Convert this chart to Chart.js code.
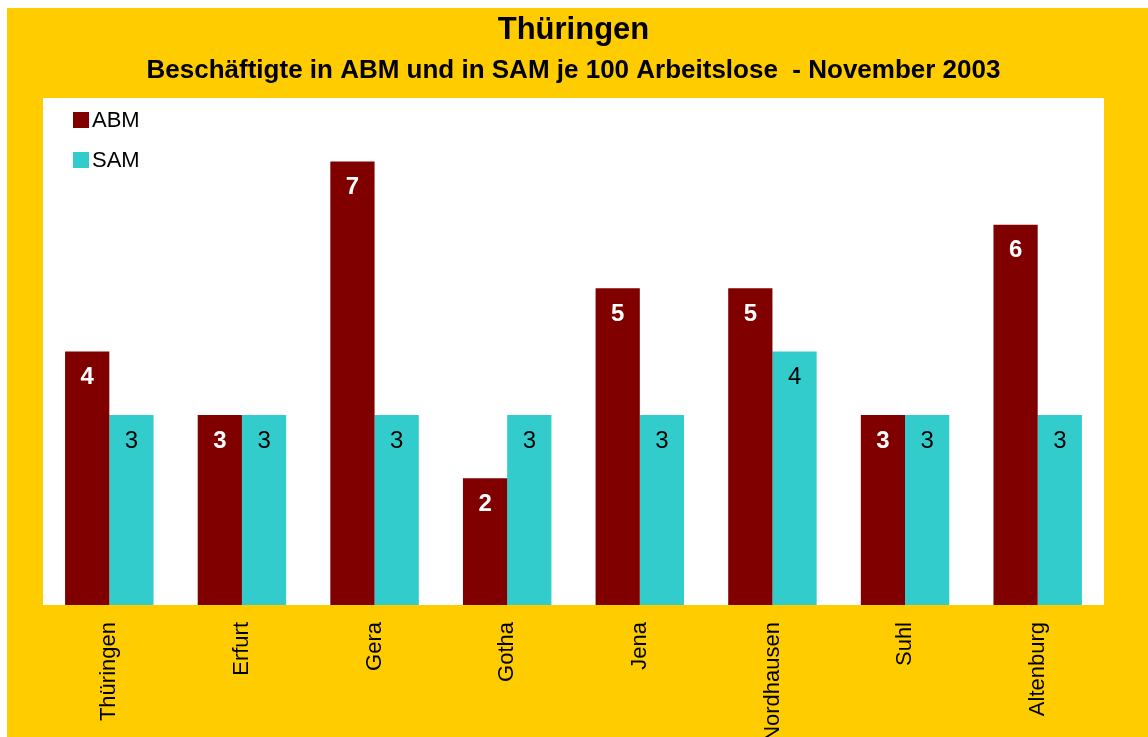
<!DOCTYPE html>
<html>
<head>
<meta charset="utf-8">
<script src="https://cdn.jsdelivr.net/npm/chart.js@4"></script>
<style>
  html, body { margin: 0; padding: 0; background: #ffffff; }
  #wrap { position: absolute; left: 7px; top: 8px; width: 1141px; height: 729px; background: #FFCC00; }
  canvas { display: block; }
</style>
</head>
<body>
<div id="wrap"><canvas id="c" width="1141" height="729"></canvas></div>
<script>
const categories = ["Thüringen", "Erfurt", "Gera", "Gotha", "Jena", "Nordhausen", "Suhl", "Altenburg"];
const abmValues = [4, 3, 7, 2, 5, 5, 3, 6];
const samValues = [3, 3, 3, 3, 3, 4, 3, 3];
const seriesNames = ["ABM", "SAM"];
const titleText = "Thüringen";
const subtitleText = "Beschäftigte in ABM und in SAM je 100 Arbeitslose  - November 2003";

const FONT = "'Liberation Sans', Arial, sans-serif";

const plotBg = {
  id: 'plotBg',
  beforeDraw(chart) {
    const { ctx, chartArea: a } = chart;
    ctx.save();
    ctx.fillStyle = '#ffffff';
    ctx.fillRect(a.left, a.top, a.right - a.left, a.bottom - a.top);
    ctx.restore();
  }
};

const valueLabels = {
  id: 'valueLabels',
  afterDatasetsDraw(chart) {
    const { ctx } = chart;
    ctx.save();
    ctx.textAlign = 'center';
    ctx.textBaseline = 'middle';
    chart.data.datasets.forEach((ds, di) => {
      const meta = chart.getDatasetMeta(di);
      meta.data.forEach((el, i) => {
        ctx.fillStyle = ds.labelColor;
        ctx.font = (ds.labelBold ? 'bold ' : '') + '24px ' + FONT;
        ctx.fillText(String(ds.data[i]), el.x, el.y + 26);
      });
    });
    ctx.restore();
  }
};

const innerLegend = {
  id: 'innerLegend',
  afterDraw(chart) {
    const { ctx, chartArea: a } = chart;
    ctx.save();
    ctx.textBaseline = 'middle';
    ctx.textAlign = 'left';
    ctx.font = '22px ' + FONT;
    chart.data.datasets.forEach((ds, di) => {
      const y = a.top + 14 + di * 40;
      ctx.fillStyle = ds.backgroundColor;
      ctx.fillRect(a.left + 30, y, 16, 16);
      ctx.fillStyle = '#000000';
      ctx.fillText(ds.label, a.left + 49, y + 9);
    });
    ctx.restore();
  }
};

new Chart(document.getElementById('c'), {
  type: 'bar',
  data: {
    labels: categories,
    datasets: [
      { label: seriesNames[0], data: abmValues, backgroundColor: '#800000', labelColor: '#ffffff', labelBold: true },
      { label: seriesNames[1], data: samValues, backgroundColor: '#33CCCC', labelColor: '#000000', labelBold: false }
    ]
  },
  options: {
    responsive: false,
    animation: false,
    layout: { padding: { left: 36, right: 44, top: 0, bottom: 0 } },
    datasets: { bar: { categoryPercentage: 0.667, barPercentage: 1.0 } },
    plugins: {
      legend: { display: false },
      tooltip: { enabled: false },
      title: {
        display: true,
        text: titleText,
        color: '#000000',
        font: { family: FONT, size: 31, weight: 'bold', lineHeight: 1.0 },
        padding: { top: 7, bottom: 6 }
      },
      subtitle: {
        display: true,
        text: subtitleText,
        color: '#000000',
        font: { family: FONT, size: 26, weight: 'bold', lineHeight: 1.0 },
        padding: { top: 6, bottom: 14 }
      }
    },
    scales: {
      x: {
        grid: { display: false, drawTicks: false },
        border: { display: false },
        ticks: {
          color: '#000000',
          font: { family: FONT, size: 22 },
          minRotation: 90,
          maxRotation: 90,
          padding: 17
        },
        afterFit(scale) { scale.height = 132; }
      },
      y: {
        display: false,
        min: 0,
        max: 8
      }
    }
  },
  plugins: [plotBg, valueLabels, innerLegend]
});
</script>
</body>
</html>
